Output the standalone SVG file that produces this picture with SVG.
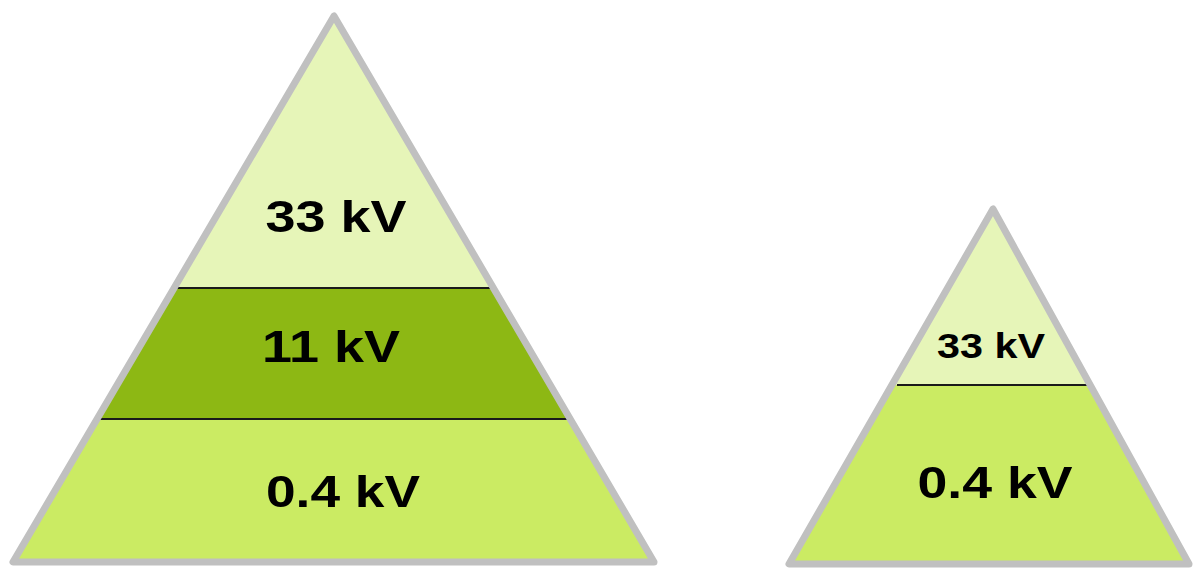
<svg xmlns="http://www.w3.org/2000/svg" width="1195" height="568" viewBox="0 0 1195 568">
<style>
.tri{fill:none;stroke:#c0c0c0;stroke-width:7;stroke-linejoin:round}
.sep{stroke:#1a1a1a;stroke-width:2}
.lbl{font-family:"Liberation Sans",Arial,sans-serif;font-weight:bold;fill:#000;text-anchor:middle}
.c1{fill:#e6f5b8}.c2{fill:#8db814}.c3{fill:#cbeb63}
</style>
<defs>
<clipPath id="cA"><polygon points="334,16 13,562 654,562"/></clipPath>
<clipPath id="cB"><polygon points="993,209 789,564 1189,564"/></clipPath>
</defs>
<rect width="1195" height="568" fill="#fff"/>
<g id="pyramid1">
<g clip-path="url(#cA)">
<rect class="c1" x="0" y="0" width="700" height="288"/>
<rect class="c2" x="0" y="288" width="700" height="131"/>
<rect class="c3" x="0" y="419" width="700" height="149"/>
</g>
<line class="sep" x1="176" y1="288" x2="492" y2="288"/>
<line class="sep" x1="100" y1="419" x2="567" y2="419"/>
<polygon class="tri" points="334,16 13,562 654,562"/>
<text class="lbl" x="336" y="232" font-size="45" textLength="141" lengthAdjust="spacingAndGlyphs">33 kV</text>
<text class="lbl" x="331" y="362" font-size="45" textLength="138" lengthAdjust="spacingAndGlyphs">11 kV</text>
<text class="lbl" x="343" y="507" font-size="45" textLength="154" lengthAdjust="spacingAndGlyphs">0.4 kV</text>
</g>
<g id="pyramid2">
<g clip-path="url(#cB)">
<rect class="c1" x="780" y="200" width="420" height="185"/>
<rect class="c3" x="780" y="385" width="420" height="183"/>
</g>
<line class="sep" x1="897" y1="385" x2="1091" y2="385"/>
<polygon class="tri" points="993,209 789,564 1189,564"/>
<text class="lbl" x="991" y="358" font-size="35" textLength="108" lengthAdjust="spacingAndGlyphs">33 kV</text>
<text class="lbl" x="995" y="498" font-size="45" textLength="155" lengthAdjust="spacingAndGlyphs">0.4 kV</text>
</g>
</svg>
